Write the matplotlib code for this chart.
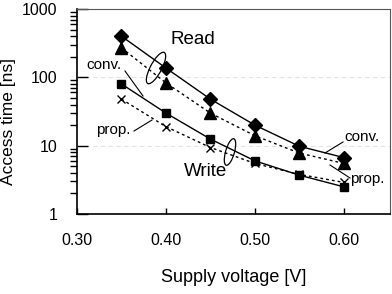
import numpy as np
import matplotlib
matplotlib.use('Agg')
from matplotlib import pyplot as plt
from matplotlib.patches import Ellipse

plt.rcParams['font.family'] = ['Liberation Sans', 'DejaVu Sans']

# Daten
vdd = [0.35, 0.40, 0.45, 0.50, 0.55, 0.60]
read_conv = [400, 137, 48, 20, 9.8, 6.7]
read_prop = [270, 83, 30, 14, 7.8, 5.5]
write_conv = [80, 30, 12.5, 6.0, 3.7, 2.5]
write_prop = [48, 19, 9.4, 5.5, 3.8, 2.9]

x_ticks = [0.30, 0.40, 0.50, 0.60]
x_labels = ['0.30', '0.40', '0.50', '0.60']
y_ticks = [1, 10, 100, 1000]
y_labels = ['1', '10', '100', '1000']

fig = plt.figure(figsize=(3.92, 2.94), dpi=100)
ax = fig.add_axes([77/392, 80/294, 313/392, 205/294])

dots = (0, (2, 2.2))
ax.plot(vdd, read_conv, color='black', lw=1, marker='D', ms=7, mfc='black')
ax.plot(vdd, read_prop, color='black', lw=1, ls=dots, marker='^', ms=8, mfc='black')
ax.plot(vdd, write_conv, color='black', lw=1, marker='s', ms=6, mfc='black')
ax.plot(vdd, write_prop, color='black', lw=1, ls=dots, marker='x', ms=6, mew=1)

ax.set_yscale('log')
ax.set_xlim(0.30, 0.652)
ax.set_ylim(1, 1000)
ax.set_xticks(x_ticks)
ax.set_xticklabels(x_labels)
ax.set_yticks(y_ticks)
ax.set_yticklabels(y_labels)
ax.yaxis.set_minor_locator(matplotlib.ticker.LogLocator(base=10, subs=np.arange(2, 10)))
ax.yaxis.set_minor_formatter(matplotlib.ticker.NullFormatter())
ax.tick_params(axis='both', direction='in', labelsize=11.5, pad=14)
ax.tick_params(axis='x', length=4, width=1)
ax.tick_params(axis='y', which='major', length=8, width=1)
ax.tick_params(axis='y', which='minor', length=5, width=1)
for sp in ax.spines.values():
    sp.set_linewidth(1.2)
ax.spines['top'].set_color('#555555')
ax.spines['right'].set_color('#555555')
ax.spines['top'].set_linewidth(0.8)
ax.spines['right'].set_linewidth(0.8)

for g in [10, 100]:
    ax.axhline(g, color='#e4e4e4', lw=0.8, ls=(0, (4, 3)), zorder=0)

ax.set_xlabel('Supply voltage [V]', fontsize=13, labelpad=15)
ax.set_ylabel('Access time [ns]', fontsize=12.5)
ax.yaxis.set_label_coords(-0.195, 0.45)

# Beschriftungen im Plot (Pixelkoordinaten der Achse)
def px(x, y):
    return ((x - 77) / 313, (214 - y) / 205)

ax.text(*px(170, 40), 'Read', transform=ax.transAxes, fontsize=13.5, va='center', ha='left')
ax.text(*px(184, 171), 'Write', transform=ax.transAxes, fontsize=13.5, va='center', ha='left')
ax.text(*px(86, 65), 'conv.', transform=ax.transAxes, fontsize=11, va='center', ha='left')
ax.text(*px(96, 130), 'prop.', transform=ax.transAxes, fontsize=11, va='center', ha='left')
ax.text(*px(344, 137), 'conv.', transform=ax.transAxes, fontsize=11, va='center', ha='left')
ax.text(*px(350, 179), 'prop.', transform=ax.transAxes, fontsize=11, va='center', ha='left')

leaders = [((125, 71), (143, 96)), ((134, 131), (152, 120)),
           ((343, 142), (325, 153)), ((350, 178), (330, 165))]
for (x0, y0), (x1, y1) in leaders:
    a, b = px(x0, y0)
    c, d = px(x1, y1)
    ax.plot([a, c], [b, d], color='black', lw=0.8, transform=ax.transAxes)

# Ellipsen um die Kurvenpaare
e1 = Ellipse(px(156, 68), 12/313, 33/205, angle=-18, transform=ax.transAxes,
             fill=False, lw=0.9, color='black')
e2 = Ellipse(px(230, 152), 9/313, 27/205, angle=-10, transform=ax.transAxes,
             fill=False, lw=0.9, color='black')
ax.add_patch(e1)
ax.add_patch(e2)

plt.savefig('out.png', dpi=100)
